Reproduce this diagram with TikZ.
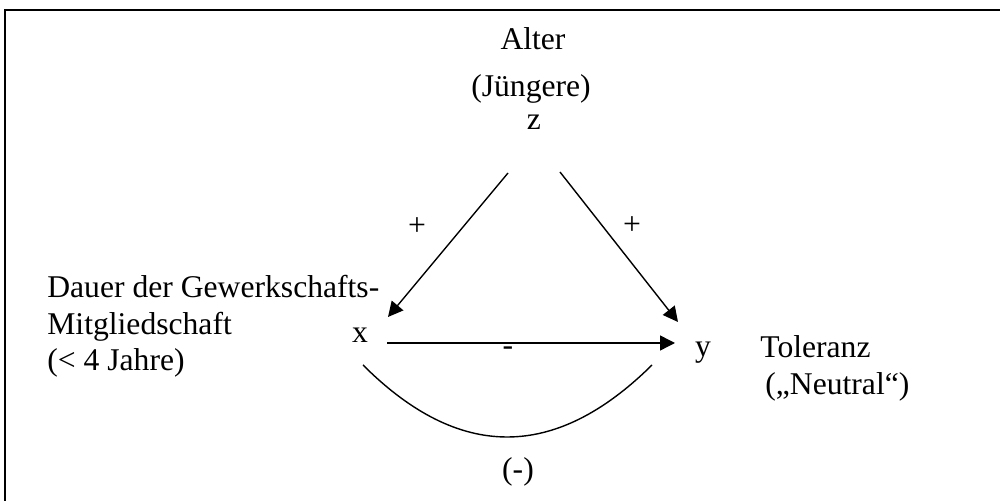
\documentclass[tikz,border=0pt]{standalone}
\usepackage{fontspec}
\setmainfont{Liberation Serif}
\usetikzlibrary{arrows.meta}

\begin{document}
\begin{tikzpicture}[
  txt/.style={inner sep=0pt, font=\fontsize{18pt}{21pt}\selectfont},
  link/.style={line width=0.8pt},
  arrow/.style={link, -{Triangle[length=0.3cm, width=0.3cm]}}
]
\useasboundingbox (0,0) rectangle (20,10.02);
\clip (0,0) rectangle (20,10.02);
\draw[line width=1.1pt] (0.1,-1) rectangle (21,9.82);

% variables
\node[txt, anchor=base] (alter) at (10.66,9.02) {Alter};
\node[txt, anchor=base] (young) at (10.62,8.08) {(Jüngere)};
\node[txt, anchor=base] (z) at (10.68,7.42) {z};
\node[txt, anchor=base] (x) at (7.2,3.16) {x};
\node[txt, anchor=base] (y) at (14.06,2.88) {y};
\node[txt, anchor=base west, align=left] (dauer) at (0.94,2.6)
  {Dauer der Gewerkschafts-\\Mitgliedschaft\\(< 4 Jahre)};
\node[txt, anchor=base west] (toleranz) at (15.2,2.86) {Toleranz};
\node[txt, anchor=base west] (neutral) at (15.3,2.12) {(„Neutral“)};

% signs
\node[txt, anchor=base] (plusl) at (8.34,5.3) {+};
\node[txt, anchor=base] (plusr) at (12.64,5.32) {+};
\node[txt, anchor=base] (minus) at (10.16,2.9) {-};
\node[txt, anchor=base] (curvesign) at (10.36,0.42) {(-)};

% connector ends
\coordinate (zx-s) at (10.16,6.56);
\coordinate (zx-e) at (7.76,3.68);
\coordinate (zy-s) at (11.2,6.58);
\coordinate (zy-e) at (13.56,3.58);
\coordinate (xy-s) at (7.74,3.16);
\coordinate (xy-e) at (13.5,3.16);
\coordinate (arc-s) at (7.26,2.72);
\coordinate (arc-e) at (13.04,2.72);

\draw[arrow] (zx-s) -- (zx-e);
\draw[arrow] (zy-s) -- (zy-e);
\draw[arrow] (xy-s) -- (xy-e);
\draw[link] (arc-s) .. controls (9.18,0.8) and (11.1,0.8) .. (arc-e);
\end{tikzpicture}
\end{document}
